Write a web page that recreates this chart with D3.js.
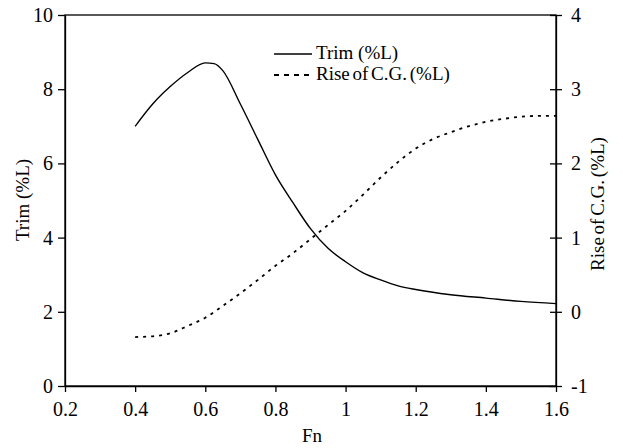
<!DOCTYPE html>
<html>
<head>
<meta charset="utf-8">
<script src="https://cdn.jsdelivr.net/npm/d3@7"></script>
<style>
  html, body { margin: 0; padding: 0; background: #fff; }
  svg { display: block; font-family: "Liberation Serif", "Times New Roman", serif; }
</style>
</head>
<body>
<svg id="chart" width="623" height="448"></svg>
<script>
// ---- data ----
const fn = [0.4, 0.45, 0.5, 0.55, 0.6, 0.625, 0.65, 0.7, 0.75, 0.8, 0.85, 0.9, 0.95, 1.0, 1.05, 1.1, 1.15, 1.2, 1.3, 1.4, 1.5, 1.6];
const trim = [7.0, 7.6, 8.07, 8.45, 8.71, 8.69, 8.5, 7.6, 6.64, 5.69, 4.94, 4.24, 3.71, 3.35, 3.05, 2.86, 2.70, 2.6, 2.46, 2.37, 2.28, 2.22];
const fnRise = [0.4, 0.45, 0.5, 0.55, 0.6, 0.65, 0.7, 0.75, 0.8, 0.85, 0.9, 0.95, 1.0, 1.05, 1.1, 1.15, 1.2, 1.25, 1.3, 1.35, 1.4, 1.45, 1.5, 1.55, 1.6];
const rise = [-0.34, -0.33, -0.29, -0.19, -0.08, 0.08, 0.25, 0.43, 0.62, 0.79, 0.98, 1.17, 1.36, 1.58, 1.81, 2.02, 2.2, 2.33, 2.42, 2.5, 2.56, 2.6, 2.63, 2.64, 2.64];
const xTicks = [0.2, 0.4, 0.6, 0.8, 1, 1.2, 1.4, 1.6];
const yLeftTicks = [0, 2, 4, 6, 8, 10];
const yRightTicks = [-1, 0, 1, 2, 3, 4];
const legendLabels = ["Trim (%L)", "Rise of C.G. (%L)"];
const xTitle = "Fn";
const yLeftTitle = "Trim (%L)";
const yRightTitle = "Rise of C.G. (%L)";

// ---- layout ----
const L = 65, R = 556, T = 15, B = 386;
const svg = d3.select("#chart");
const x = d3.scaleLinear().domain([0.2, 1.6]).range([L, R]);
const yL = d3.scaleLinear().domain([0, 10]).range([B, T]);
const yR = d3.scaleLinear().domain([-1, 4]).range([B, T]);

const axisColor = "#000";
const tickFont = "20px";
const serif = '"Liberation Serif", "Times New Roman", serif';

// frame
svg.append("rect").attr("x", L).attr("y", T).attr("width", R - L).attr("height", B - T)
  .attr("fill", "none").attr("stroke", axisColor).attr("stroke-width", 1.3);

// bottom axis
const gx = svg.append("g").attr("transform", `translate(0,${B})`)
  .call(d3.axisBottom(x).tickValues(xTicks).tickFormat(d => String(d)).tickSize(6).tickSizeOuter(0).tickPadding(10));
// left axis
const gl = svg.append("g").attr("transform", `translate(${L},0)`)
  .call(d3.axisLeft(yL).tickValues(yLeftTicks).tickFormat(d => String(d)).tickSize(7).tickSizeOuter(0).tickPadding(5));
// right axis
const gr = svg.append("g").attr("transform", `translate(${R},0)`)
  .call(d3.axisRight(yR).tickValues(yRightTicks).tickFormat(d => String(d)).tickSize(6).tickSizeOuter(0).tickPadding(9));
gr.selectAll(".tick line").attr("x1", -6);

[gx, gl, gr].forEach(g => {
  g.select(".domain").attr("stroke", axisColor).attr("stroke-width", 1.3);
  g.selectAll(".tick line").attr("stroke", axisColor).attr("stroke-width", 1.3);
  g.selectAll(".tick text").attr("fill", "#000").style("font-size", tickFont)
    .style("font-family", serif);
});

// lines
const trimLine = d3.line().x((d, i) => x(fn[i])).y(d => yL(d)).curve(d3.curveMonotoneX);
svg.append("path").datum(trim).attr("d", trimLine)
  .attr("fill", "none").attr("stroke", "#000").attr("stroke-width", 1.4);

const riseLine = d3.line().x((d, i) => x(fnRise[i])).y(d => yR(d)).curve(d3.curveMonotoneX);
svg.append("path").datum(rise).attr("d", riseLine)
  .attr("fill", "none").attr("stroke", "#000").attr("stroke-width", 1.8)
  .attr("stroke-dasharray", "3,5");

// legend
const lg = svg.append("g");
const legendStyles = [null, "5,5"];
legendLabels.forEach((lab, i) => {
  const yy = 54 + i * 21;
  lg.append("line").attr("x1", 274).attr("x2", 312).attr("y1", yy).attr("y2", yy)
    .attr("stroke", "#000").attr("stroke-width", i === 0 ? 1.4 : 1.8)
    .attr("stroke-dasharray", legendStyles[i]);
  lg.append("text").attr("x", 316).attr("y", yy).attr("dy", "0.25em")
    .style("font-size", "19px").style("word-spacing", i === 0 ? "0px" : "-2px").text(lab);
});

// axis titles
svg.append("text").attr("x", 312).attr("y", 442).attr("text-anchor", "middle")
  .style("font-size", "19px").text(xTitle);
svg.append("text").attr("transform", "translate(29,200) rotate(-90)").attr("text-anchor", "middle")
  .style("font-size", "19px").text(yLeftTitle);
svg.append("text").attr("transform", "translate(604,204) rotate(-90)").attr("text-anchor", "middle")
  .style("font-size", "19px").style("word-spacing", "-2px").text(yRightTitle);
</script>
</body>
</html>
